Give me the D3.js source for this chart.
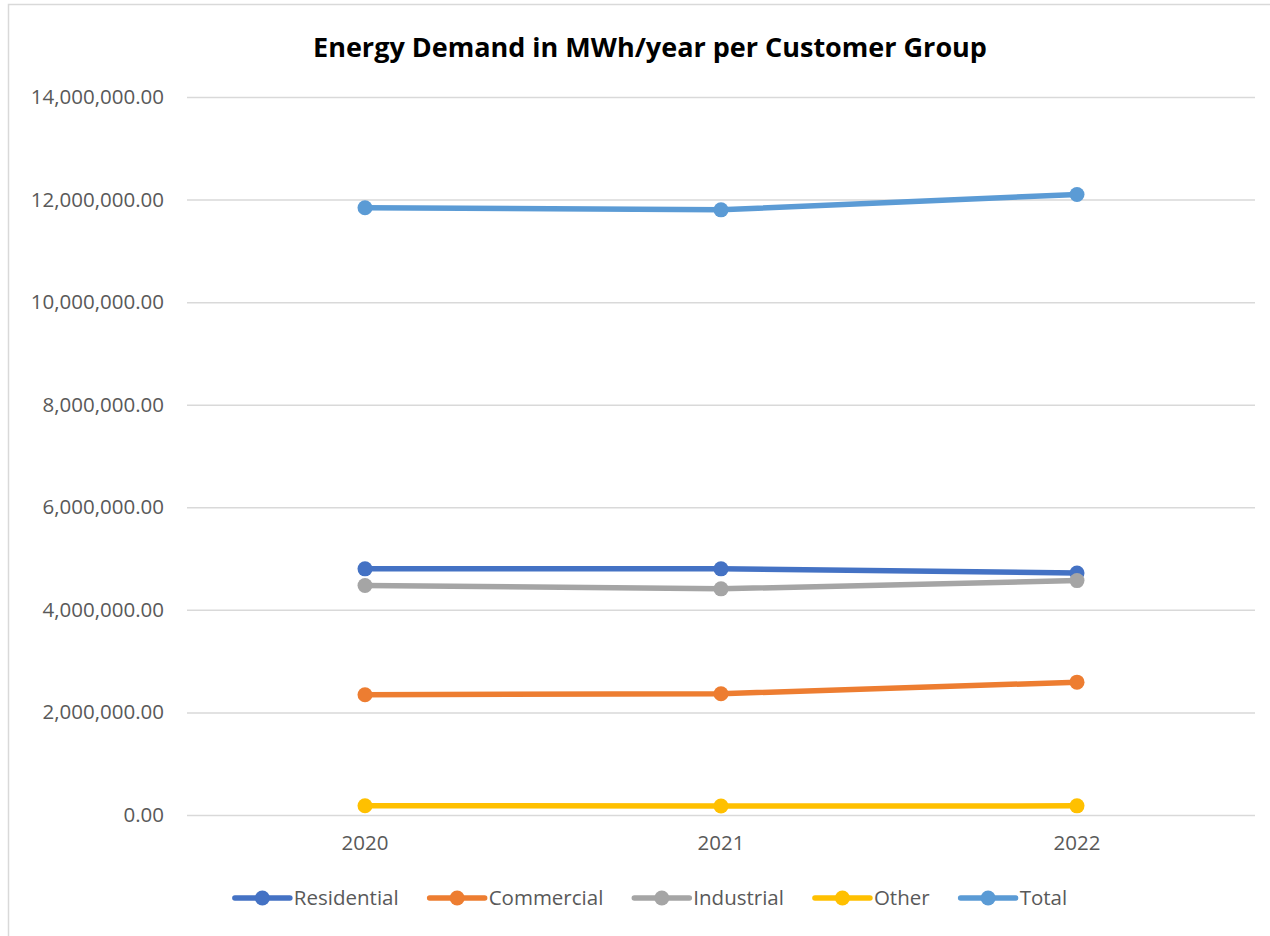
<!DOCTYPE html>
<html>
<head>
<meta charset="utf-8">
<script src="https://cdn.jsdelivr.net/npm/d3@7"></script>
<style>
  body { margin: 0; background: #fff; }
  text { font-family: "Open Sans", "Noto Sans", sans-serif; }
</style>
</head>
<body>
<div id="chart-div"></div>
<script>
// data
const years = ["2020", "2021", "2022"];
const residential = [4800000, 4800000, 4720000];
const commercial = [2345000, 2365000, 2590000];
const industrial = [4475000, 4410000, 4570000];
const other = [180000, 175000, 178000];
const total = [11840000, 11800000, 12100000];
const seriesNames = ["Residential", "Commercial", "Industrial", "Other", "Total"];
const yTicks = [0, 2000000, 4000000, 6000000, 8000000, 10000000, 12000000, 14000000];

const COLORS = ["#4472C4", "#ED7D31", "#A5A5A5", "#FFC000", "#5B9BD5"];
const WIDTH = 1270;
const HEIGHT = 936;
const MARGIN = { left: 187, right: 15, top: 97, bottom: 121 };

const series = [residential, commercial, industrial, other, total].map((vals, i) => ({
  name: seriesNames[i],
  color: COLORS[i],
  values: vals.map((v, j) => ({ year: years[j], value: v }))
}));

const svg = d3.select("#chart-div")
  .append("svg")
  .attr("width", WIDTH)
  .attr("height", HEIGHT);

// chart frame
svg.append("rect")
  .attr("x", 8.5).attr("y", 4.5)
  .attr("width", WIDTH + 20).attr("height", HEIGHT + 20)
  .attr("fill", "none")
  .attr("stroke", "#D9D9D9")
  .attr("stroke-width", 1.5);

svg.append("text")
  .attr("x", 650)
  .attr("y", 57)
  .attr("text-anchor", "middle")
  .attr("font-size", 27)
  .attr("font-weight", "bold")
  .attr("fill", "#000")
  .text("Energy Demand in MWh/year per Customer Group");

const x = d3.scaleBand()
  .domain(years)
  .range([MARGIN.left, WIDTH - MARGIN.right]);

const y = d3.scaleLinear()
  .domain([0, 14000000])
  .range([HEIGHT - MARGIN.bottom, MARGIN.top]);

// gridlines + y labels
const yAxis = svg.append("g")
  .attr("transform", `translate(${MARGIN.left},0)`)
  .call(d3.axisLeft(y)
    .tickValues(yTicks)
    .tickSize(-(WIDTH - MARGIN.left - MARGIN.right))
    .tickPadding(23)
    .tickFormat(d3.format(",.2f")));

yAxis.select(".domain").remove();
yAxis.selectAll("line").attr("stroke", "#D9D9D9").attr("stroke-width", 1.5);
yAxis.selectAll("text")
  .attr("font-size", 20.5)
  .attr("fill", "#595959")
  .attr("font-family", "Open Sans, sans-serif");

// x labels
const xAxis = svg.append("g")
  .attr("transform", `translate(0,${HEIGHT - MARGIN.bottom})`)
  .call(d3.axisBottom(x).tickSize(0).tickPadding(20));

xAxis.select(".domain").remove();
xAxis.selectAll("text")
  .attr("font-size", 20.5)
  .attr("fill", "#595959")
  .attr("font-family", "Open Sans, sans-serif");

const lineGenerator = d3.line()
  .x(d => x(d.year) + x.bandwidth() / 2)
  .y(d => y(d.value));

const groups = svg.selectAll(".series")
  .data(series)
  .join("g")
  .attr("class", "series");

groups.append("path")
  .attr("d", d => lineGenerator(d.values))
  .attr("fill", "none")
  .attr("stroke", d => d.color)
  .attr("stroke-width", 5.5)
  .attr("stroke-linejoin", "round");

groups.selectAll("circle")
  .data(d => d.values.map(v => ({ ...v, color: d.color })))
  .join("circle")
  .attr("cx", d => x(d.year) + x.bandwidth() / 2)
  .attr("cy", d => y(d.value))
  .attr("r", 7.5)
  .attr("fill", d => d.color);

// legend
const legend = svg.append("g");
let lx = 0;
series.forEach(s => {
  const item = legend.append("g").attr("transform", `translate(${lx},0)`);
  item.append("line")
    .attr("x1", 0).attr("x2", 55)
    .attr("stroke", s.color)
    .attr("stroke-width", 5.5)
    .attr("stroke-linecap", "round");
  item.append("circle")
    .attr("cx", 27.5).attr("r", 7.5)
    .attr("fill", s.color);
  const t = item.append("text")
    .attr("x", 59)
    .attr("dy", "0.35em")
    .attr("font-size", 20.5)
    .attr("fill", "#595959")
    .text(s.name);
  lx += 59 + t.node().getComputedTextLength() + 31;
});
const legendWidth = lx - 31;
legend.attr("transform", `translate(${651 - legendWidth / 2},898)`);
</script>
</body>
</html>
